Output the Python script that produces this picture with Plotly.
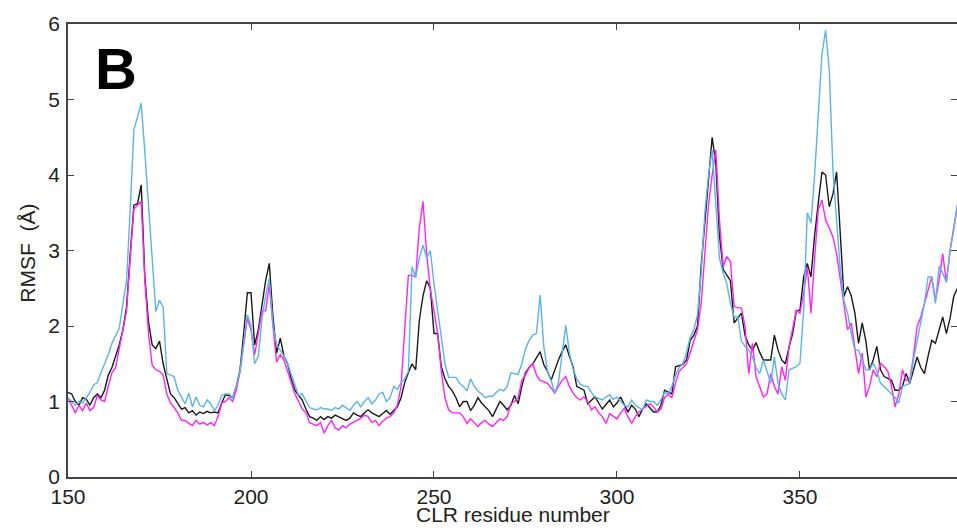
import plotly.graph_objects as go

residues = list(range(150, 394))

rmsf_black = [
    1.12, 1.10, 1.00, 0.95, 1.05, 1.03, 0.95, 1.05, 1.10, 1.05,
    1.15, 1.35, 1.45, 1.60, 1.75, 1.95, 2.25, 2.95, 3.60, 3.62,
    3.87, 2.65, 2.05, 1.75, 1.70, 1.80, 1.50, 1.30, 1.10, 1.05,
    0.98, 0.90, 0.92, 0.85, 0.88, 0.82, 0.86, 0.84, 0.87, 0.85,
    0.86, 0.85, 0.98, 1.09, 1.08, 1.05, 1.20, 1.42, 1.90, 2.44,
    2.44, 1.75, 1.95, 2.30, 2.60, 2.83, 2.12, 1.64, 1.84, 1.60,
    1.50, 1.30, 1.15, 1.08, 1.02, 0.90, 0.80, 0.78, 0.75, 0.80,
    0.76, 0.80, 0.78, 0.82, 0.80, 0.78, 0.75, 0.78, 0.85, 0.82,
    0.80, 0.85, 0.89, 0.85, 0.82, 0.80, 0.84, 0.88, 0.83, 0.88,
    0.93, 1.05, 1.25, 1.38, 1.50, 1.42, 2.08, 2.40, 2.60, 2.50,
    1.90, 1.90, 1.46, 1.30, 1.20, 1.14, 1.05, 0.93, 1.00, 1.00,
    0.88, 0.95, 1.05, 0.98, 0.93, 0.88, 0.80, 0.90, 1.00, 0.95,
    0.89, 0.95, 1.08, 0.97, 1.20, 1.38, 1.45, 1.50, 1.58, 1.66,
    1.49, 1.40, 1.28, 1.43, 1.55, 1.66, 1.75, 1.60, 1.46, 1.20,
    1.18, 1.15, 0.97, 1.02, 1.06, 0.98, 0.90, 0.96, 1.02, 0.93,
    0.98, 1.06, 0.95, 0.86, 0.95, 0.90, 0.80, 0.90, 0.97, 0.92,
    0.86, 0.86, 0.95, 1.15, 1.12, 1.10, 1.46, 1.48, 1.49, 1.55,
    1.81, 1.88, 2.00, 2.80, 3.40, 3.95, 4.50, 4.15, 3.20, 2.75,
    2.68, 2.60, 2.04, 2.10, 2.17, 1.87, 1.75, 1.68, 1.78, 1.65,
    1.55, 1.55, 1.55, 1.88, 1.68, 1.55, 1.50, 1.72, 1.90, 2.20,
    2.21, 2.65, 2.83, 2.65, 3.20, 3.63, 4.04, 4.00, 3.58, 3.75,
    4.04, 3.23, 2.39, 2.52, 2.40, 2.17, 1.77, 2.04, 1.80, 1.42,
    1.55, 1.73, 1.42, 1.33, 1.30, 1.28, 1.15, 1.15, 1.20, 1.37,
    1.24, 1.40, 1.59, 1.45, 1.37, 1.60, 1.81, 1.77, 1.95, 2.12,
    1.90, 2.10, 2.39, 2.50,
]

rmsf_magenta = [
    1.05, 0.95, 0.85, 0.95, 0.88, 0.98, 0.88, 0.92, 1.08, 1.02,
    1.00, 1.20, 1.38, 1.45, 1.70, 1.90, 2.20, 2.90, 3.55, 3.60,
    3.65, 2.60, 1.90, 1.48, 1.42, 1.40, 1.35, 1.10, 0.98, 0.92,
    0.85, 0.75, 0.75, 0.71, 0.68, 0.75, 0.70, 0.72, 0.69, 0.72,
    0.68, 0.80, 0.98, 1.00, 1.05, 1.00, 1.15, 1.40, 1.75, 2.10,
    1.95, 1.62, 1.90, 2.20, 2.20, 2.55, 2.00, 1.52, 1.62, 1.55,
    1.40, 1.25, 1.10, 1.00, 0.90, 0.85, 0.72, 0.70, 0.68, 0.72,
    0.58, 0.68, 0.75, 0.65, 0.62, 0.68, 0.65, 0.70, 0.72, 0.75,
    0.78, 0.82, 0.80, 0.72, 0.75, 0.68, 0.74, 0.78, 0.80, 0.85,
    0.95, 1.20, 1.95, 2.67, 2.67, 2.65, 3.30, 3.65, 2.96, 2.48,
    2.20, 1.90, 1.40, 1.05, 0.89, 0.85, 0.85, 0.85, 0.80, 0.71,
    0.77, 0.72, 0.67, 0.72, 0.75, 0.70, 0.67, 0.72, 0.77, 0.75,
    0.80, 0.97, 1.00, 1.05, 1.28, 1.35, 1.45, 1.50, 1.35, 1.28,
    1.26, 1.24, 1.18, 1.11, 1.20, 1.28, 1.33, 1.20, 1.11, 1.05,
    1.02, 1.06, 1.00, 0.89, 0.93, 0.85, 0.80, 0.71, 0.84, 0.80,
    0.77, 0.85, 0.91, 0.80, 0.71, 0.80, 0.86, 0.90, 0.93, 0.97,
    0.93, 0.86, 0.90, 1.05, 1.10, 1.05, 1.25, 1.40, 1.45, 1.50,
    1.65, 1.80, 1.95, 2.30, 2.98, 3.60, 4.00, 4.33, 3.40, 2.79,
    2.92, 2.85, 2.26, 2.24, 2.24, 1.99, 1.37, 1.77, 1.33, 1.20,
    1.06, 1.10, 1.37, 1.20, 1.10, 1.46, 1.28, 1.72, 1.95, 2.21,
    2.17, 2.43, 2.78, 2.17, 2.90, 3.54, 3.67, 3.40, 3.30, 3.18,
    2.96, 2.60, 2.30, 1.95, 2.04, 1.70, 1.37, 1.64, 1.06, 1.20,
    1.42, 1.33, 1.51, 1.46, 1.40, 1.20, 0.93, 1.10, 1.42, 1.28,
    1.28, 1.60, 1.99, 2.12, 2.30, 2.50, 2.65, 2.34, 2.60, 2.96,
    2.58, 3.00, 3.30, 3.60,
]

rmsf_cyan = [
    1.05, 1.00, 0.95, 1.00, 0.98, 1.05, 1.12, 1.22, 1.25, 1.38,
    1.50, 1.62, 1.77, 1.87, 1.97, 2.30, 2.60, 3.55, 4.60, 4.77,
    4.95, 4.30, 3.60, 3.00, 2.19, 2.34, 2.25, 1.37, 1.35, 1.33,
    1.15, 1.05, 0.97, 1.11, 0.93, 1.06, 0.95, 0.93, 1.02, 0.97,
    0.88, 0.95, 1.08, 1.10, 1.10, 1.05, 1.20, 1.40, 1.80, 2.15,
    2.00, 1.50, 1.60, 2.10, 2.40, 2.63, 2.00, 1.75, 1.68, 1.60,
    1.50, 1.35, 1.20, 1.08, 1.10, 1.00, 0.92, 0.90, 0.89, 0.92,
    0.90, 0.90, 0.88, 0.92, 0.90, 0.95, 0.92, 0.88, 0.95, 1.00,
    0.93, 1.00, 1.05, 0.97, 1.02, 1.10, 1.12, 1.00, 1.05, 1.20,
    1.16, 1.25, 1.30, 1.40, 2.78, 2.65, 2.90, 3.07, 2.90, 3.00,
    2.56, 2.20, 1.81, 1.50, 1.32, 1.32, 1.32, 1.24, 1.20, 1.14,
    1.30, 1.20, 1.14, 1.10, 1.05, 1.07, 1.07, 1.12, 1.16, 1.14,
    1.20, 1.38, 1.37, 1.36, 1.50, 1.70, 1.81, 1.88, 1.90, 2.41,
    1.73, 1.40, 1.28, 1.11, 1.25, 1.60, 2.01, 1.64, 1.43, 1.30,
    1.23, 1.20, 1.20, 1.12, 1.06, 1.04, 1.02, 1.06, 1.09, 1.03,
    1.06, 1.00, 0.95, 0.93, 1.02, 0.95, 0.92, 0.89, 1.02, 1.00,
    1.00, 0.95, 1.02, 1.12, 1.10, 1.20, 1.35, 1.45, 1.50, 1.65,
    1.85, 1.95, 2.15, 2.70, 3.50, 4.00, 4.33, 3.54, 2.90, 2.70,
    2.56, 2.30, 2.12, 2.12, 1.80, 1.73, 1.68, 1.59, 1.45, 1.37,
    1.55, 1.40, 1.24, 1.59, 1.24, 1.10, 1.02, 1.42, 1.44, 1.46,
    1.51, 2.21, 3.50, 3.36, 4.00, 4.73, 5.60, 5.92, 5.39, 4.07,
    3.40, 2.74, 2.34, 2.17, 1.90, 1.68, 1.68, 1.55, 1.42, 1.42,
    1.51, 1.40, 1.24, 1.20, 1.15, 1.11, 1.05, 0.98, 1.20, 1.22,
    1.24, 1.55, 1.81, 2.08, 2.30, 2.65, 2.65, 2.30, 2.79, 2.70,
    2.58, 3.00, 3.27, 3.60,
]

x_ticks = [150, 200, 250, 300, 350]
y_ticks = [0, 1, 2, 3, 4, 5, 6]
x_title = "CLR residue number"
y_title = "RMSF  (Å)"

fig = go.Figure()
fig.add_trace(go.Scatter(x=residues, y=rmsf_black, mode="lines",
                         line=dict(color="#1a1a1a", width=1.4), name="black"))
fig.add_trace(go.Scatter(x=residues, y=rmsf_magenta, mode="lines",
                         line=dict(color="#ff22ff", width=1.4), name="magenta"))
fig.add_trace(go.Scatter(x=residues, y=rmsf_cyan, mode="lines",
                         line=dict(color="#5ab4ea", width=1.4), name="cyan"))

fam = "Liberation Sans, Arial, sans-serif"
axis_font = dict(family=fam, size=21, color="#222")

common = dict(ticks="inside", ticklen=6, tickwidth=1.3, tickcolor="#444",
              showline=True, linecolor="#444", linewidth=1.5, mirror="ticks",
              showgrid=False, zeroline=False, tickfont=axis_font,
              automargin=False)

fig.update_layout(
    width=957, height=531,
    margin=dict(l=68, r=0, t=24, b=54),
    paper_bgcolor="white", plot_bgcolor="white",
    showlegend=False,
    font=axis_font,
    xaxis=dict(range=[150, 392.9], tickvals=x_ticks, ticklabelstandoff=0, **common),
    yaxis=dict(range=[0, 6], tickvals=y_ticks, ticklabelstandoff=2, **common),
    annotations=[
        dict(text="<b>B</b>", xref="paper", yref="paper", x=0.028, y=0.978,
             xanchor="left", yanchor="top", showarrow=False,
             font=dict(family=fam, size=58, color="black")),
        dict(text=x_title, xref="paper", yref="paper", x=0.5, y=-0.083,
             xanchor="center", yanchor="middle", showarrow=False, font=axis_font),
        dict(text=y_title, xref="paper", yref="paper", x=-0.045, y=0.495,
             xanchor="center", yanchor="middle", textangle=-90, showarrow=False,
             font=axis_font),
    ],
)

fig.write_html(
    "out.html",
    config={"displayModeBar": False},
    post_script="document.body.style.margin='0';document.body.style.overflow='hidden';",
)
